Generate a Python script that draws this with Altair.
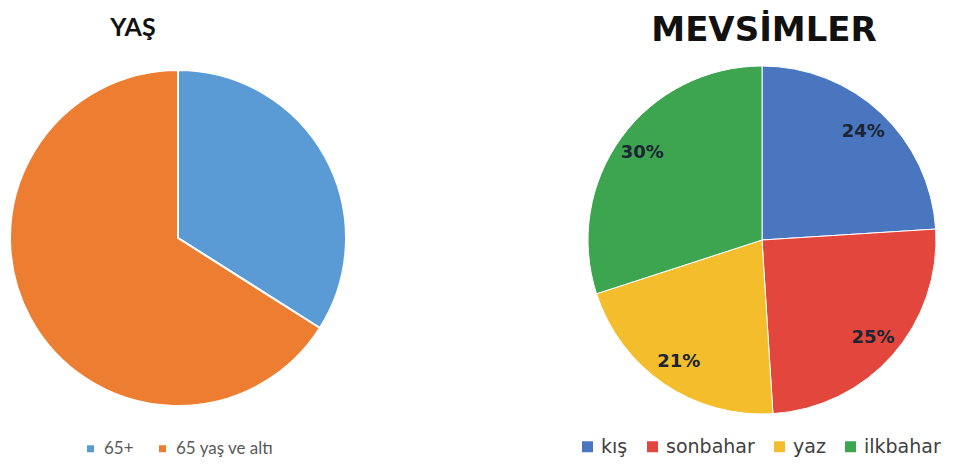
import altair as alt
import pandas as pd

age_labels = ["65+", "65 yaş ve altı"]
age_values = [34, 66]
age_colors = ["#5b9bd5", "#ed7d31"]

season_labels = ["kış", "sonbahar", "yaz", "ilkbahar"]
season_values = [24, 25, 21, 30]
season_colors = ["#4a76c0", "#e2463c", "#f4bd2c", "#3da54f"]

titles_left = ["YAŞ"]
titles_right = ["MEVSİMLER"]

age_df = pd.DataFrame({
    "label": age_labels,
    "value": age_values,
    "order": list(range(len(age_labels))),
})
season_df = pd.DataFrame({
    "label": season_labels,
    "value": season_values,
    "order": list(range(len(season_labels))),
    "pct": [f"{v}%" for v in season_values],
})

LX, LY = 170, 230
RX, RY = 754, 232

left_pie = alt.Chart(age_df).mark_arc(
    outerRadius=168, stroke="white", strokeWidth=2
).encode(
    theta=alt.Theta("value:Q", stack=True),
    order=alt.Order("order:Q"),
    color=alt.Color(
        "label:N",
        scale=alt.Scale(domain=age_labels, range=age_colors),
        legend=alt.Legend(
            title=None, orient="none", direction="horizontal",
            legendX=74, legendY=432, symbolType="square", symbolSize=49,
            symbolStrokeWidth=0, labelFont="Lato", labelFontSize=17,
            labelColor="#595959", labelOffset=5, columnPadding=20,
            labelLimit=300,
        ),
    ),
    x=alt.value(LX), y=alt.value(LY),
)

right_pie = alt.Chart(season_df).mark_arc(
    outerRadius=174, stroke="white", strokeWidth=1
).encode(
    theta=alt.Theta("value:Q", stack=True),
    order=alt.Order("order:Q"),
    color=alt.Color(
        "label:N",
        scale=alt.Scale(domain=season_labels, range=season_colors),
        legend=alt.Legend(
            title=None, orient="none", direction="horizontal",
            legendX=570, legendY=429, symbolType="square", symbolSize=121,
            symbolStrokeWidth=0, labelFont="DejaVu Sans", labelFontSize=19,
            labelColor="#404040", labelOffset=4, columnPadding=15,
            labelLimit=300,
        ),
    ),
    x=alt.value(RX), y=alt.value(RY),
)

right_text = alt.Chart(season_df).mark_text(
    radius=148, font="DejaVu Sans", fontSize=18, fontWeight="bold",
    color="#1c2533"
).encode(
    theta=alt.Theta("value:Q", stack=True),
    order=alt.Order("order:Q"),
    text="pct:N",
    x=alt.value(RX), y=alt.value(RY),
)

title_l = alt.Chart(pd.DataFrame({"t": titles_left})).mark_text(
    font="Lato", fontWeight="bold", fontSize=25, color="#111111",
    align="center", baseline="alphabetic"
).encode(text="t:N", x=alt.value(125), y=alt.value(28))

title_r = alt.Chart(pd.DataFrame({"t": titles_right})).mark_text(
    font="DejaVu Sans", fontWeight="bold", fontSize=34, color="#111111",
    align="center", baseline="alphabetic"
).encode(text="t:N", x=alt.value(756), y=alt.value(33))

chart = alt.layer(
    left_pie, right_pie, right_text, title_l, title_r
).resolve_scale(
    color="independent", theta="independent"
).properties(
    width=941, height=449, padding=0,
    autosize=alt.AutoSizeParams(type="none"),
).configure_view(stroke=None)

chart.save("out.html", embed_options={"renderer": "svg", "actions": False})
